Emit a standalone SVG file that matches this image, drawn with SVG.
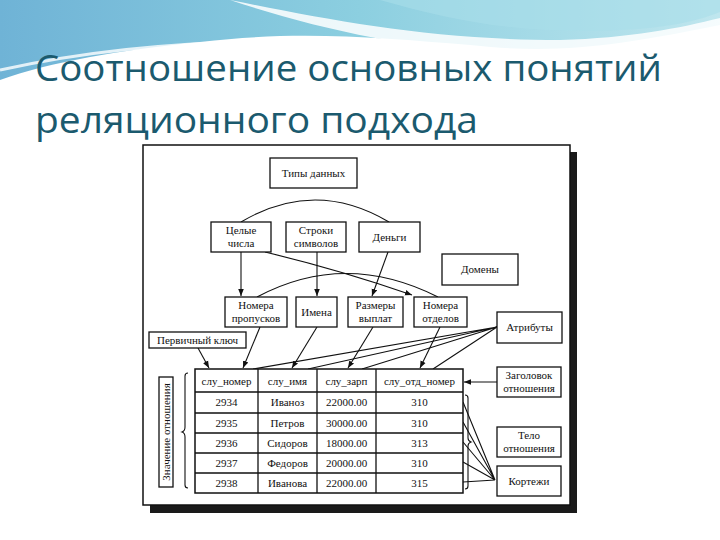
<svg xmlns="http://www.w3.org/2000/svg" width="720" height="540" viewBox="0 0 720 540">
<defs>
<linearGradient id="bg" x1="0" y1="0" x2="1" y2="0">
<stop offset="0" stop-color="#6fb3d6"/>
<stop offset="0.5" stop-color="#8ccfe0"/>
<stop offset="1" stop-color="#bfe6ee"/>
</linearGradient>
<marker id="ah" viewBox="0 0 10 10" refX="10" refY="5" markerWidth="7" markerHeight="7" orient="auto" markerUnits="userSpaceOnUse">
<path d="M0,1 L10,5 L0,9 Z" fill="#111"/>
</marker>
<style>
.box{fill:#fff;stroke:#111;stroke-width:1.3}
.t{font-family:"Liberation Serif","DejaVu Serif",serif;font-size:11px;fill:#111;text-anchor:middle}
.c{fill:none;stroke:#111;stroke-width:1.1}
.a{fill:none;stroke:#111;stroke-width:1.1;marker-end:url(#ah)}
.title{font-family:"Open Sans","Noto Sans",sans-serif;font-size:37px;fill:#1b5a6e}
</style>
</defs>
<rect width="720" height="540" fill="#fff"/>
<path d="M0,0 H720 V25 C620,45 560,55 470,45 C380,38 300,30 200,42 C120,50 50,62 0,80 Z" fill="url(#bg)"/>
<path d="M230,0 C330,20 430,40 560,40 C630,38 680,28 720,18 V28 C660,45 600,55 540,55 C420,52 320,30 230,0 Z" fill="#fff" opacity="0.85"/>
<path d="M0,70 C80,52 180,40 300,42 C420,45 520,60 600,50" fill="none" stroke="#fff" stroke-width="3" opacity="0.8"/>
<path d="M380,0 C450,20 520,35 620,30 C670,28 700,20 720,12 V0 Z" fill="#a8dde9" opacity="0.6"/>
<text class="title" x="35" y="81" textLength="627" lengthAdjust="spacingAndGlyphs">Соотношение основных понятий</text>
<text class="title" x="35" y="133" textLength="443" lengthAdjust="spacingAndGlyphs">реляционного подхода</text>

<rect x="150" y="152" width="427" height="361" fill="#1a1a1a"/>
<rect x="143" y="145" width="427" height="360" fill="#fff" stroke="#111" stroke-width="1.5"/>

<g id="connectors">
<path class="c" d="M241,222 Q315,178 389,222"/>
<path class="a" d="M241,252 V296"/>
<path class="a" d="M265,252 Q340,270 412,295"/>
<path class="a" d="M317,252 V296"/>
<path class="a" d="M388,252 L372,296"/>
<path class="c" d="M257,297 Q345,250 438,297"/>
<path class="a" d="M260,327 L243,368"/>
<path class="a" d="M317,327 L292,368"/>
<path class="a" d="M373,327 L348,368"/>
<path class="a" d="M440,327 L420,368"/>
<path class="a" d="M198,348 L209,368"/>
<path class="c" d="M497,327 L253,369 M497,327 L308,369 M497,327 L362,369 M497,327 L433,369"/>
<path class="a" d="M497,382 L464,382"/>
<path class="c" d="M495,480 L463,402 M495,480 L463,422 M495,480 L463,442 M495,480 L463,462 M495,480 L463,482"/>
<path class="c" d="M188,373 q-3,0 -3,3 v51 q0,4 -3,5 q3,1 3,5 v48 q0,3 3,3"/>
<path class="c" d="M465,395 q3,0 3,3 v40 q0,3 3,4 q-3,1 -3,4 v40 q0,3 -3,3"/>
</g>

<g id="types"><rect class="box" x="270" y="158" width="87" height="30"/><text class="t" x="313.5" y="177">Типы данных</text></g>
<g id="int"><rect class="box" x="211" y="222" width="60" height="30"/><text class="t" x="241" y="234">Целые</text><text class="t" x="241" y="247">числа</text></g>
<g id="str"><rect class="box" x="286" y="222" width="60" height="30"/><text class="t" x="316" y="234">Строки</text><text class="t" x="316" y="247">символов</text></g>
<g id="money"><rect class="box" x="359" y="222" width="61" height="30"/><text class="t" x="389.5" y="241">Деньги</text></g>
<g id="domains"><rect class="box" x="442" y="254" width="76" height="31"/><text class="t" x="480" y="273">Домены</text></g>
<g id="d1"><rect class="box" x="225" y="297" width="62" height="30"/><text class="t" x="256" y="309">Номера</text><text class="t" x="256" y="322">пропусков</text></g>
<g id="d2"><rect class="box" x="296" y="297" width="41" height="30"/><text class="t" x="316.5" y="316">Имена</text></g>
<g id="d3"><rect class="box" x="348" y="297" width="55" height="30"/><text class="t" x="375.5" y="309">Размеры</text><text class="t" x="375.5" y="322">выплат</text></g>
<g id="d4"><rect class="box" x="414" y="297" width="53" height="30"/><text class="t" x="440.5" y="309">Номера</text><text class="t" x="440.5" y="322">отделов</text></g>
<g id="attrs"><rect class="box" x="497" y="312" width="65" height="31"/><text class="t" x="529.5" y="331">Атрибуты</text></g>
<g id="pk"><rect class="box" x="149" y="332" width="97" height="16"/><text class="t" x="197.5" y="344">Первичный ключ</text></g>
<g id="head"><rect class="box" x="497" y="367" width="64" height="30"/><text class="t" x="529" y="379">Заголовок</text><text class="t" x="529" y="392">отношения</text></g>
<g id="body"><rect class="box" x="497" y="427" width="64" height="30"/><text class="t" x="529" y="439">Тело</text><text class="t" x="529" y="452">отношения</text></g>
<g id="tuples"><rect class="box" x="497" y="466" width="64" height="30"/><text class="t" x="529" y="485">Кортежи</text></g>
<g id="value"><rect class="box" x="159" y="377" width="14" height="110"/><text class="t" transform="translate(170,432) rotate(-90)" x="0" y="0" font-size="10">Значение отношения</text></g>

<g id="table">
<rect x="195" y="369" width="268" height="124" fill="#fff" stroke="#111" stroke-width="1.5"/>
<path d="M195,392 H463 M195,413 H463 M195,433 H463 M195,453 H463 M195,473 H463 M258,369 V493 M317,369 V493 M376,369 V493" stroke="#111" stroke-width="1.3" fill="none"/>
<text class="t" x="226.5" y="385">слу_номер</text><text class="t" x="287.5" y="385">слу_имя</text><text class="t" x="346.5" y="385">слу_зарп</text><text class="t" x="419.5" y="385">слу_отд_номер</text>
<text class="t" x="226.5" y="406">2934</text><text class="t" x="287.5" y="406">Иваноз</text><text class="t" x="346.5" y="406">22000.00</text><text class="t" x="419.5" y="406">310</text>
<text class="t" x="226.5" y="427">2935</text><text class="t" x="287.5" y="427">Петров</text><text class="t" x="346.5" y="427">30000.00</text><text class="t" x="419.5" y="427">310</text>
<text class="t" x="226.5" y="447">2936</text><text class="t" x="287.5" y="447">Сидоров</text><text class="t" x="346.5" y="447">18000.00</text><text class="t" x="419.5" y="447">313</text>
<text class="t" x="226.5" y="467">2937</text><text class="t" x="287.5" y="467">Федоров</text><text class="t" x="346.5" y="467">20000.00</text><text class="t" x="419.5" y="467">310</text>
<text class="t" x="226.5" y="487">2938</text><text class="t" x="287.5" y="487">Иванова</text><text class="t" x="346.5" y="487">22000.00</text><text class="t" x="419.5" y="487">315</text>
</g>
</svg>
